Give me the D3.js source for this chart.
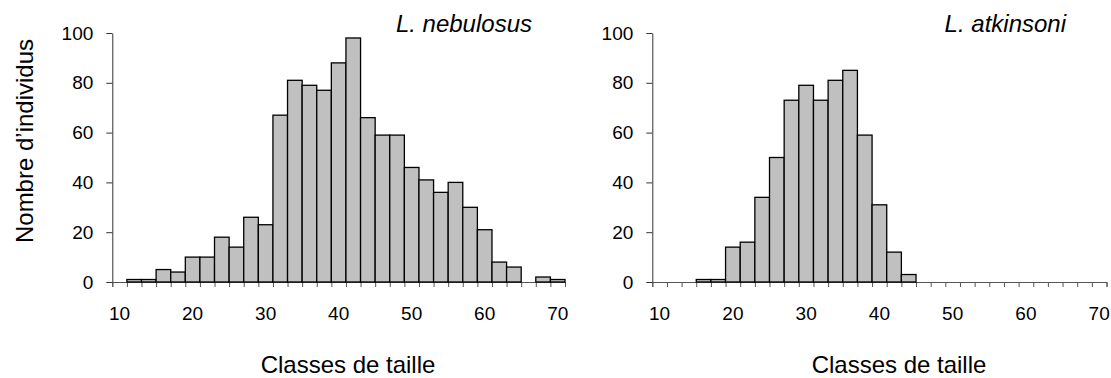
<!DOCTYPE html>
<html>
<head>
<meta charset="utf-8">
<script src="https://cdn.jsdelivr.net/npm/d3@7"></script>
<style>
  body { margin: 0; background: #fff; }
  svg text { font-family: "Liberation Sans", Arial, sans-serif; fill: #000; }
</style>
</head>
<body>
<div id="chart"></div>
<script>
// size classes (cm), one bar per class
const classes = d3.range(10, 72, 2);
const tickLabels = [10, 20, 30, 40, 50, 60, 70];
const yTicks = [0, 20, 40, 60, 80, 100];

const nebulosus = [0, 1, 1, 5, 4, 10, 10, 18, 14, 26, 23, 67, 81, 79, 77, 88, 98, 66, 59, 59,
                   46, 41, 36, 40, 30, 21, 8, 6, 0, 2, 1];
const atkinsoni = [0, 0, 0, 1, 1, 14, 16, 34, 50, 73, 79, 73, 81, 85, 59, 31, 12, 3, 0, 0,
                   0, 0, 0, 0, 0, 0, 0, 0, 0, 0, 0];

const panels = [
  { name: "L. nebulosus", values: nebulosus, x0: 112.3, x1: 565, titleEnd: 532, xTitle: 348 },
  { name: "L. atkinsoni", values: atkinsoni, x0: 652.3, x1: 1106.5, titleEnd: 1066, xTitle: 899 }
];

const svg = d3.select("#chart").append("svg")
  .attr("width", 1111)
  .attr("height", 378);

const y = d3.scaleLinear().domain([0, 100]).range([282, 33]);

panels.forEach(p => {
  const g = svg.append("g");

  const x = d3.scaleBand()
    .domain(classes)
    .range([p.x0, p.x1])
    .paddingInner(0)
    .paddingOuter(0);

  // category boundaries for the tick marks
  const xEdge = d3.scaleLinear()
    .domain([0, classes.length])
    .range([p.x0, p.x1]);

  // x axis: ticks between classes
  const xAxis = g.append("g")
    .attr("transform", `translate(0,${y(0)})`)
    .call(d3.axisBottom(xEdge)
      .tickValues(d3.range(0, classes.length + 1))
      .tickSize(5)
      .tickFormat(""));
  xAxis.select(".domain").attr("stroke", "#555").attr("stroke-width", 1);
  xAxis.selectAll(".tick line").attr("stroke", "#555");

  // labels every 10
  g.selectAll(".xlab")
    .data(tickLabels)
    .enter().append("text")
    .attr("class", "xlab")
    .attr("x", d => x(d) + x.bandwidth() / 2)
    .attr("y", 320)
    .attr("text-anchor", "middle")
    .style("font-size", "19px")
    .text(d => d);

  // bars
  g.selectAll(".bar")
    .data(classes.map((c, i) => ({ c, v: p.values[i] })).filter(d => d.v > 0))
    .enter().append("rect")
    .attr("class", "bar")
    .attr("x", d => x(d.c))
    .attr("width", x.bandwidth())
    .attr("y", d => y(d.v))
    .attr("height", d => y(0) - y(d.v))
    .attr("fill", "#c0c0c0")
    .attr("stroke", "#000")
    .attr("stroke-width", 1.3);

  // y axis
  const yAxis = g.append("g")
    .attr("transform", `translate(${p.x0},0)`)
    .call(d3.axisLeft(y).tickValues(yTicks).tickSize(6).tickPadding(13).tickSizeOuter(0));
  yAxis.select(".domain").attr("stroke", "#333").attr("stroke-width", 1);
  yAxis.selectAll(".tick line").attr("stroke", "#333");
  yAxis.selectAll(".tick text")
    .style("font-size", "19px")
    .style("font-family", "Liberation Sans, Arial, sans-serif")
    .attr("fill", "#000");

  // species name
  g.append("text")
    .attr("x", p.titleEnd)
    .attr("y", 32)
    .attr("text-anchor", "end")
    .style("font-size", "24px")
    .style("font-style", "italic")
    .text(p.name);

  // x title
  g.append("text")
    .attr("x", p.xTitle)
    .attr("y", 373)
    .attr("text-anchor", "middle")
    .style("font-size", "24px")
    .text("Classes de taille");
});

// y title
svg.append("text")
  .attr("transform", "rotate(-90)")
  .attr("x", -141)
  .attr("y", 33)
  .attr("text-anchor", "middle")
  .style("font-size", "24px")
  .text("Nombre d\u2019individus");
</script>
</body>
</html>
